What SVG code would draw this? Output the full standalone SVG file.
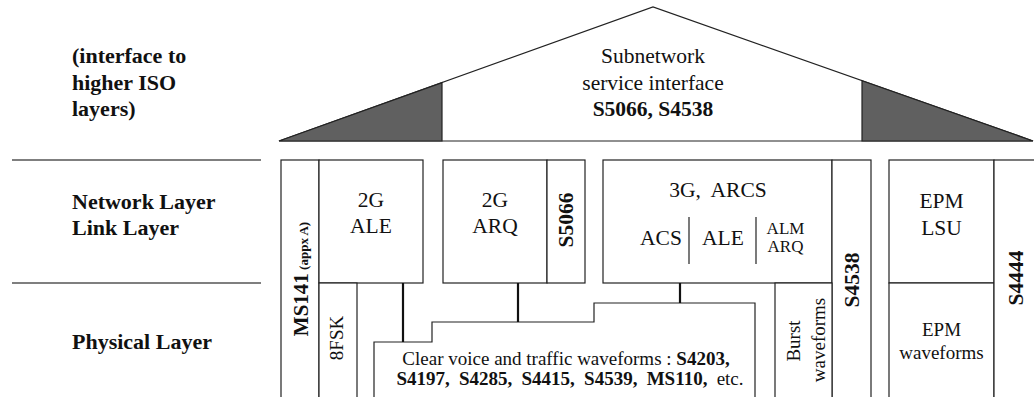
<svg xmlns="http://www.w3.org/2000/svg" width="1034" height="397" viewBox="0 0 1034 397">
<style>
text{font-family:"Liberation Serif","Times New Roman",serif;fill:#111}
.lbl{font-size:22px;font-weight:bold}
.t{font-size:21.5px}
.b{font-weight:bold}
.s{font-size:19px}
.box{fill:#fff;stroke:#222;stroke-width:1.2}
.ln{fill:none;stroke:#222;stroke-width:1.2}
.sep{stroke:#555;stroke-width:1.5}
.con{stroke:#111;stroke-width:2.2;fill:none}
.dark{fill:#606060;stroke:#222;stroke-width:1.2}
</style>
<rect width="1034" height="397" fill="#fff"/>
<g id="layer-labels">
<line class="sep" x1="12" y1="160" x2="261" y2="160"/>
<line class="sep" x1="12" y1="283" x2="261" y2="283"/>
<text class="lbl" x="72" y="63">(interface to</text>
<text class="lbl" x="72" y="90">higher ISO</text>
<text class="lbl" x="72" y="116">layers)</text>
<text class="lbl" x="72" y="209">Network Layer</text>
<text class="lbl" x="72" y="235">Link Layer</text>
<text class="lbl" x="72" y="349">Physical Layer</text>
</g>
<g id="roof">
<polygon class="box" points="279,141 653,7 1033,141"/>
<polygon class="dark" points="279,141 442,82.6 442,141"/>
<polygon class="dark" points="862,80.7 1033,141 862,141"/>
<text class="t" x="653" y="63" text-anchor="middle">Subnetwork</text>
<text class="t" x="653" y="90" text-anchor="middle">service interface</text>
<text class="t b" x="653" y="116" text-anchor="middle">S5066, S4538</text>
</g>
<g id="ms141">
<rect class="box" x="281" y="160" width="38" height="250"/>
<text transform="translate(308,279) rotate(-90)" text-anchor="middle" class="b"><tspan font-size="21">MS141</tspan><tspan font-size="13"> (appx A)</tspan></text>
</g>
<g id="ale-2g">
<rect class="box" x="319" y="160" width="104" height="123"/>
<text class="t" x="371" y="207" text-anchor="middle">2G</text>
<text class="t" x="371" y="233" text-anchor="middle">ALE</text>
</g>
<g id="fsk8">
<rect class="box" x="319" y="283" width="38" height="127"/>
<text class="s" transform="translate(343,338) rotate(-90)" text-anchor="middle">8FSK</text>
</g>
<g id="arq-2g">
<rect class="box" x="443" y="160" width="104" height="123"/>
<text class="t" x="495" y="207" text-anchor="middle">2G</text>
<text class="t" x="495" y="233" text-anchor="middle">ARQ</text>
</g>
<g id="s5066">
<rect class="box" x="547" y="160" width="38" height="123"/>
<text class="t b" transform="translate(573,220) rotate(-90)" text-anchor="middle">S5066</text>
</g>
<g id="arcs-3g">
<rect class="box" x="603" y="160" width="229" height="123"/>
<text class="t" x="718" y="197" text-anchor="middle" xml:space="preserve">3G,  ARCS</text>
<line class="ln" x1="689" y1="217" x2="689" y2="264"/>
<line class="ln" x1="756" y1="217" x2="756" y2="264"/>
<text class="t" x="661" y="245" text-anchor="middle">ACS</text>
<text class="t" x="723" y="245" text-anchor="middle">ALE</text>
<text x="785.5" y="234" font-size="17" text-anchor="middle">ALM</text>
<text x="785.5" y="252" font-size="17" text-anchor="middle">ARQ</text>
</g>
<g id="s4538">
<rect class="box" x="832" y="160" width="39" height="250"/>
<text class="t b" transform="translate(859,280) rotate(-90)" text-anchor="middle">S4538</text>
</g>
<g id="burst">
<rect class="box" x="775" y="283" width="57" height="127"/>
<text class="s" transform="translate(800,341) rotate(-90)" text-anchor="middle">Burst</text>
<text class="s" transform="translate(825,340) rotate(-90)" text-anchor="middle">waveforms</text>
</g>
<g id="clear-voice">
<polygon class="box" points="374,410 374,342 432,342 432,322 594,322 594,303 755,303 755,410"/>
<text class="s" x="566" y="365" text-anchor="middle">Clear voice and traffic waveforms : <tspan class="b">S4203,</tspan></text>
<text class="s" x="570" y="385" text-anchor="middle" word-spacing="4.5"><tspan class="b">S4197, S4285, S4415, S4539, MS110,</tspan> etc.</text>
</g>
<g id="epm-lsu">
<rect class="box" x="889" y="160" width="105" height="123"/>
<text class="t" x="941.5" y="208" text-anchor="middle">EPM</text>
<text class="t" x="941.5" y="235" text-anchor="middle">LSU</text>
</g>
<g id="epm-waveforms">
<rect class="box" x="889" y="283" width="105" height="127"/>
<text class="s" x="941.5" y="336" text-anchor="middle">EPM</text>
<text class="s" x="941.5" y="359" text-anchor="middle">waveforms</text>
</g>
<g id="s4444">
<rect class="box" x="994" y="160" width="45" height="250"/>
<text class="t b" transform="translate(1023,278) rotate(-90)" text-anchor="middle">S4444</text>
</g>
<g id="connectors">
<line class="con" x1="403" y1="283" x2="403" y2="342"/>
<line class="con" x1="518" y1="283" x2="518" y2="322"/>
<line class="con" x1="680" y1="283" x2="680" y2="303"/>
</g>
</svg>
